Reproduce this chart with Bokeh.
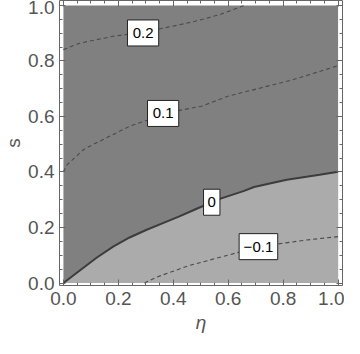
from bokeh.plotting import figure
from bokeh.models import FixedTicker, Range1d, NumeralTickFormatter, LinearAxis
from bokeh.embed import file_html
from bokeh.resources import INLINE
from bokeh.core.properties import value

# Contour lines (eta, s)
c0_eta = [0.0, 0.062, 0.122, 0.181, 0.241, 0.301, 0.360, 0.420, 0.479, 0.540, 0.572,
          0.658, 0.694, 0.813, 0.933, 1.0]
c0_s = [0.0, 0.047, 0.092, 0.131, 0.164, 0.191, 0.215, 0.239, 0.265, 0.291, 0.304,
        0.332, 0.346, 0.372, 0.390, 0.401]

cp1_eta = [0.0, 0.014, 0.074, 0.098, 0.217, 0.241, 0.312, 0.363, 0.503, 0.599, 0.718, 0.837, 1.0]
cp1_s = [0.401, 0.427, 0.481, 0.494, 0.553, 0.565, 0.589, 0.611, 0.637, 0.673, 0.703, 0.733, 0.783]

cp2_eta = [0.0, 0.062, 0.181, 0.290, 0.396, 0.479, 0.569, 0.658]
cp2_s = [0.841, 0.865, 0.889, 0.904, 0.925, 0.943, 0.967, 1.0]

cm1_eta = [0.295, 0.336, 0.455, 0.575, 0.643, 0.775, 0.885, 1.0]
cm1_s = [0.0, 0.020, 0.062, 0.094, 0.112, 0.140, 0.155, 0.167]

# Contour labels
lab_text = ["0.2", "0.1", "0", "\u22120.1"]
lab_eta = [0.290, 0.363, 0.540, 0.710]
lab_s = [0.901, 0.611, 0.291, 0.131]

# Ticks
major_ticks = [0.0, 0.2, 0.4, 0.6, 0.8, 1.0]
minor_ticks = [0.05, 0.1, 0.15, 0.25, 0.3, 0.35, 0.45, 0.5, 0.55, 0.65, 0.7, 0.75,
               0.85, 0.9, 0.95]

FONT = "Liberation Sans"
AXC = "#666666"
TXC = "#555555"

X0, X1 = -0.0143, 1.0161
Y0, Y1 = -0.0090, 1.0180

p = figure(width=344, height=338,
           x_range=Range1d(X0, X1), y_range=Range1d(Y0, Y1),
           output_backend="svg", toolbar_location=None,
           min_border_left=54, min_border_right=2, min_border_top=0, min_border_bottom=53)
p.xgrid.visible = False
p.ygrid.visible = False
p.outline_line_color = None
p.background_fill_color = "white"

# domain and regions
p.quad(left=[0.0], right=[1.0], bottom=[0.0], top=[1.0], fill_color="#808080", line_color=None)
p.patch(c0_eta + [1.0], c0_s + [0.0], fill_color="#ababab", line_color=None)

# contour lines
dash_kw = dict(line_color="#4a4a4a", line_width=1.1, line_dash="4 3")
p.line(cp1_eta, cp1_s, **dash_kw)
p.line(cp2_eta, cp2_s, **dash_kw)
p.line(cm1_eta, cm1_s, **dash_kw)
p.line(c0_eta, c0_s, line_color="#3c3c3c", line_width=2)

# contour labels: white boxes sized to the text
box_w = [9 + 7.4 * len(t) for t in lab_text]
p.rect(lab_eta, lab_s, width=box_w, height=26, width_units="screen", height_units="screen",
       fill_color="white", line_color="#222222", line_width=1)
p.text(lab_eta, lab_s, text=lab_text, text_align="center", text_baseline="middle",
       text_font=value(FONT), text_font_size="15px", text_color="black")


def style(ax, labels=True):
    ax.ticker = FixedTicker(ticks=major_ticks, minor_ticks=minor_ticks)
    ax.axis_line_color = AXC
    ax.major_tick_line_color = AXC
    ax.minor_tick_line_color = AXC
    ax.major_tick_in = 6
    ax.major_tick_out = 0
    ax.minor_tick_in = 3
    ax.minor_tick_out = 0
    if labels:
        ax.formatter = NumeralTickFormatter(format="0.0")
        ax.major_label_text_font = FONT
        ax.major_label_text_font_size = "19px"
        ax.major_label_text_color = TXC
        ax.axis_label_text_font = FONT
        ax.axis_label_text_font_size = "19px"
        ax.axis_label_text_color = TXC
    else:
        ax.major_label_text_font_size = "0px"
        ax.major_label_standoff = 0


xa = p.xaxis[0]
ya = p.yaxis[0]
style(xa)
style(ya)
xa.major_label_standoff = 6
xa.axis_label = "\u03b7"
xa.axis_label_text_font_style = "italic"
xa.axis_label_standoff = 4
ya.major_label_standoff = 5
ya.axis_label = "s"
ya.axis_label_text_font_style = "normal"
ya.axis_label_standoff = 1

# frame sides on top and right: ticks only
top = LinearAxis()
style(top, labels=False)
p.add_layout(top, "above")
right = LinearAxis()
style(right, labels=False)
p.add_layout(right, "right")

open("out.html", "w").write(file_html(p, INLINE))
